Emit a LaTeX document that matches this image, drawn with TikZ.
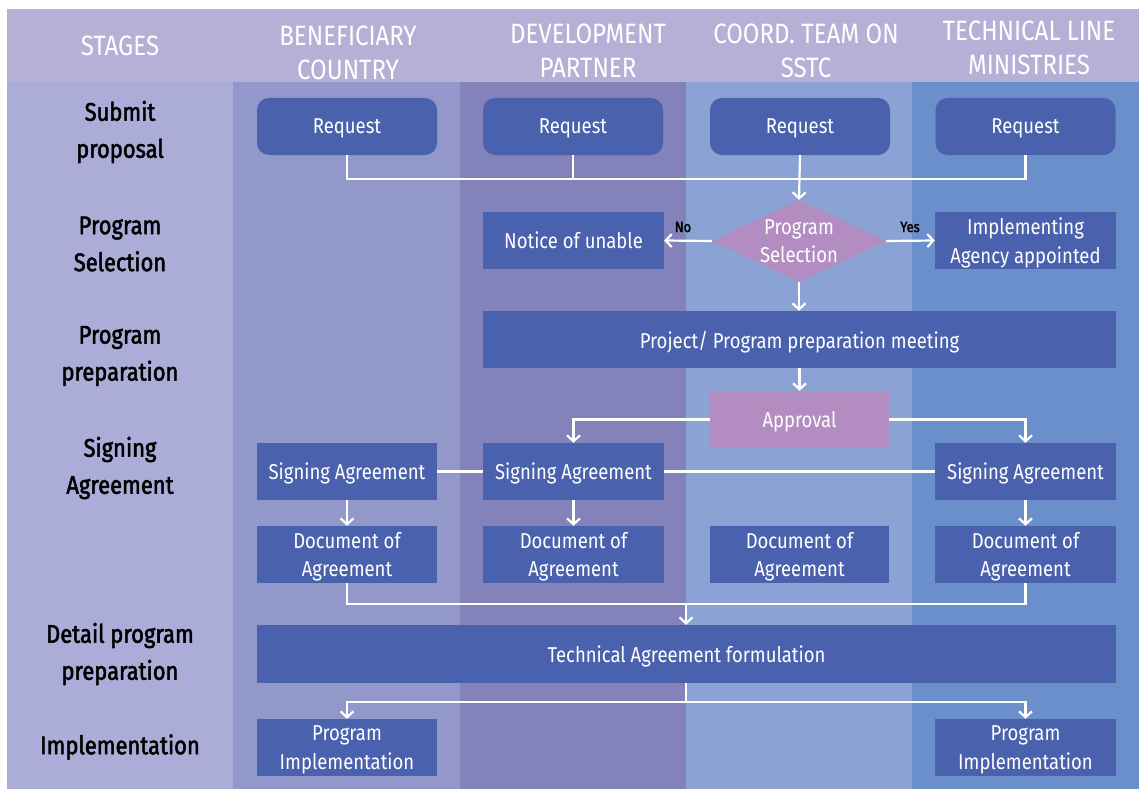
\documentclass[tikz,border=0pt]{standalone}
\usepackage{fontspec}
\setmainfont[FakeStretch=0.86]{Fira Sans}
\newfontfamily\stagefont[FakeStretch=0.86,FakeBold=2]{Fira Sans}
\usetikzlibrary{arrows.meta,shapes.geometric}
\definecolor{hdr}{HTML}{B6B0D6}
\definecolor{colS}{HTML}{ABADD8}
\definecolor{colB}{HTML}{9298CA}
\definecolor{colD}{HTML}{8482BA}
\definecolor{colC}{HTML}{8BA3D4}
\definecolor{colT}{HTML}{6A8FCA}
\definecolor{boxc}{HTML}{4A61AD}
\definecolor{pinkc}{HTML}{B38DC2}
\begin{document}
\begin{tikzpicture}[x=1pt,y=-1pt,
  box/.style={rectangle,fill=boxc,text=white,minimum width=180pt,minimum height=57pt,inner sep=0pt,text depth=0pt,align=center,font=\fontsize{21.5}{28.5}\selectfont},
  rbox/.style={box,rounded corners=12pt},
  hdrtext/.style={text=white,align=center,font=\fontsize{28}{34}\selectfont},
  stagetext/.style={text=black,align=center,font=\stagefont\fontsize{25.5}{37}\selectfont},
  lbl/.style={text=black,font=\stagefont\fontsize{15}{17}\selectfont},
  conn/.style={draw=white,line width=2.2pt},
  arr/.style={conn,-{Straight Barb[length=6pt,width=13pt]}}
]
\useasboundingbox (0,0) rectangle (1139,789);
\fill[white] (0,0) rectangle (1139,789);
\fill[hdr] (7,9) rectangle (1139,82);
\fill[colS] (7,82) rectangle (233,789);
\fill[colB] (233,82) rectangle (460,789);
\fill[colD] (460,82) rectangle (686,789);
\fill[colC] (686,82) rectangle (912,789);
\fill[colT] (912,82) rectangle (1139,789);

% header
\node[hdrtext] (hS) at (120,46) {STAGES};
\node[hdrtext] (hB) at (348,53) {BENEFICIARY\\COUNTRY};
\node[hdrtext] (hD) at (588,51) {DEVELOPMENT\\PARTNER};
\node[hdrtext] (hC) at (806,51) {COORD. TEAM ON\\SSTC};
\node[hdrtext] (hT) at (1029,48) {TECHNICAL LINE\\MINISTRIES};

% stages
\node[stagetext] (s1) at (120,132) {Submit\\proposal};
\node[stagetext] (s2) at (120,244) {Program\\Selection};
\node[stagetext] (s3) at (120,356) {Program\\preparation};
\node[stagetext] (s4) at (120,468) {Signing\\Agreement};
\node[stagetext] (s5) at (120,654) {Detail program\\preparation};
\node[stagetext] (s6) at (120,747) {Implementation};

% requests
\node[rbox] (rq1) at (347,126.5) {Request};
\node[rbox] (rq2) at (573,126.5) {Request};
\node[rbox] (rq3) at (800,126.5) {Request};
\node[rbox] (rq4) at (1025.5,126.5) {Request};
\coordinate (j1) at (800,179);

% selection
\node[diamond,fill=pinkc,minimum width=174pt,minimum height=82pt,inner sep=0pt] (dia) at (799,241) {};
\node[text=white,align=center,text depth=0pt,font=\fontsize{21.5}{28.5}\selectfont] (diat) at (dia) {Program\\Selection};
\node[box,minimum width=181pt] (no) at (573.5,240.5) {Notice of unable};
\node[box,minimum width=181pt] (ia) at (1025.5,240.5) {Implementing\\Agency appointed};
\node[lbl] (lno) at (683,227) {No};
\node[lbl] (lyes) at (910,227) {Yes};

% preparation
\node[box,minimum width=633pt] (prep) at (799.5,339.5) {Project/ Program preparation meeting};
\node[box,fill=pinkc,minimum width=179pt] (apr) at (799.5,419.5) {Approval};

% signing
\node[box] (sg1) at (347,471.5) {Signing Agreement};
\node[box,minimum width=181pt] (sg2) at (573.5,471.5) {Signing Agreement};
\node[box,minimum width=181pt] (sg4) at (1025.5,471.5) {Signing Agreement};

\node[box] (dc1) at (347,554.5) {Document of\\Agreement};
\node[box,minimum width=181pt] (dc2) at (573.5,554.5) {Document of\\Agreement};
\node[box,minimum width=179pt] (dc3) at (799.5,554.5) {Document of\\Agreement};
\node[box,minimum width=181pt] (dc4) at (1025.5,554.5) {Document of\\Agreement};
\coordinate (j2) at (686,604);

\node[box,minimum width=859pt,minimum height=58pt] (tech) at (686.5,654) {Technical Agreement formulation};
\coordinate (j3) at (686,702);

\node[box] (pi1) at (347,747.5) {Program\\Implementation};
\node[box,minimum width=181pt] (pi4) at (1025.5,747.5) {Program\\Implementation};

% connectors
\draw[conn] (rq1.south) |- (j1);
\draw[conn] (rq4.south) |- (j1);
\draw[conn] (rq2.south) -- (rq2.south |- j1);
\draw[arr] (rq3.south) -- (dia.north);
\draw[arr] (dia.west) -- (no.east);
\draw[arr] (dia.east) -- (ia.west);
\draw[arr] (dia.south) -- (prep.north -| dia.south);
\draw[arr] (prep.south -| apr.north) -- (apr.north);
\draw[arr] (apr.west) -| (sg2.north);
\draw[arr] (apr.east) -| (sg4.north);
\draw[conn] (sg1.east) -- (sg2.west);
\draw[conn] (sg2.east) -- (sg4.west);
\draw[arr] (sg1.south) -- (dc1.north);
\draw[arr] (sg2.south) -- (dc2.north);
\draw[arr] (sg4.south) -- (dc4.north);
\draw[conn] (dc1.south) |- (j2);
\draw[conn] (dc4.south) |- (j2);
\draw[arr] (j2) -- (j2 |- tech.north);
\draw[conn] (tech.south -| j3) -- (j3);
\draw[arr] (j3) -| (pi1.north);
\draw[arr] (j3) -| (pi4.north);
\end{tikzpicture}
\end{document}
